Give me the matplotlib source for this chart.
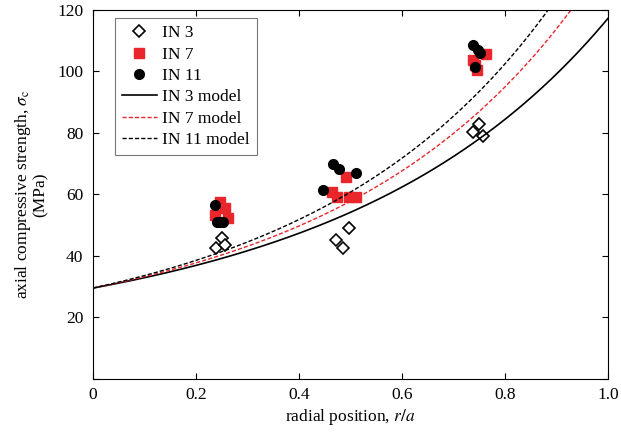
import numpy as np
import matplotlib.pyplot as plt

plt.rcParams['font.family'] = ['Liberation Serif', 'DejaVu Serif']
plt.rcParams['mathtext.fontset'] = 'stix'

# measured points (r/a, MPa)
in3_r = [0.239, 0.250, 0.256, 0.472, 0.485, 0.498, 0.738, 0.750, 0.757]
in3_s = [42.4, 45.7, 43.5, 45.3, 42.7, 48.9, 80.3, 83.0, 79.0]
in7_r = [0.247, 0.256, 0.237, 0.263, 0.491, 0.465, 0.474, 0.498, 0.510, 0.738, 0.742, 0.745, 0.763]
in7_s = [57.6, 55.4, 53.2, 52.2, 65.5, 60.8, 59.0, 59.2, 59.2, 103.6, 102.0, 100.4, 105.8]
in11_r = [0.237, 0.240, 0.246, 0.252, 0.467, 0.478, 0.510, 0.446, 0.738, 0.748, 0.752, 0.742]
in11_s = [56.5, 51.0, 51.0, 51.0, 69.8, 68.4, 67.1, 61.4, 108.5, 106.9, 106.0, 101.3]

# model: sigma = s0 * exp(b*r + c*r^2)
s0 = 29.5
model_b = [1.05, 1.147, 1.258]
model_c = [0.33, 0.393, 0.373]

fig = plt.figure(figsize=(6.21, 4.34), dpi=100)
ax = fig.add_axes([0.1498, 0.1274, 0.8292, 0.8496])

ax.plot(in3_r, in3_s, 'D', mfc='white', mec='black', mew=1.2, ms=6.3, ls='none', label='IN 3')
ax.plot(in7_r, in7_s, 's', color='#e8262b', ms=6.5, ls='none', label='IN 7')
ax.plot(in11_r, in11_s, 'o', color='black', ms=7, ls='none', label='IN 11')

r = np.linspace(0, 1, 300)
styles = [dict(color='black', ls='-', lw=1.2),
          dict(color='#e8262b', ls=(0, (3, 1.5)), lw=1.0),
          dict(color='black', ls=(0, (3, 1.5)), lw=1.0)]
names = ['IN 3 model', 'IN 7 model', 'IN 11 model']
for b, c, st, nm in zip(model_b, model_c, styles, names):
    ax.plot(r, s0 * np.exp(b * r + c * r ** 2), label=nm, **st)

ax.set_xlim(0, 1.0)
ax.set_ylim(0, 120)
ax.set_xticks([0, 0.2, 0.4, 0.6, 0.8, 1.0])
ax.set_xticklabels(['0', '0.2', '0.4', '0.6', '0.8', '1.0'])
ax.set_yticks([0, 20, 40, 60, 80, 100, 120])
ax.set_yticklabels(['', '20', '40', '60', '80', '100', '120'])
ax.tick_params(direction='in', top=True, right=True, labelsize=12.5, length=4)
ax.tick_params(axis='y', pad=7)
ax.tick_params(axis='x', pad=6)

ax.set_xlabel('radial position, $r/a$', fontsize=12.5, labelpad=3)
ax.set_ylabel('axial compressive strength, $\\sigma_{\\rm c}$\n(MPa)', fontsize=12.5,
              linespacing=1.0, labelpad=6)

leg = ax.legend(loc='upper left', bbox_to_anchor=(0.043, 0.9775), borderaxespad=0,
                fontsize=12.5, frameon=True, fancybox=False, edgecolor='#555555',
                handlelength=2.0, labelspacing=0.3, borderpad=0.4, handletextpad=0.3)
leg.get_frame().set_linewidth(0.8)

fig.savefig('out.png', dpi=100)
